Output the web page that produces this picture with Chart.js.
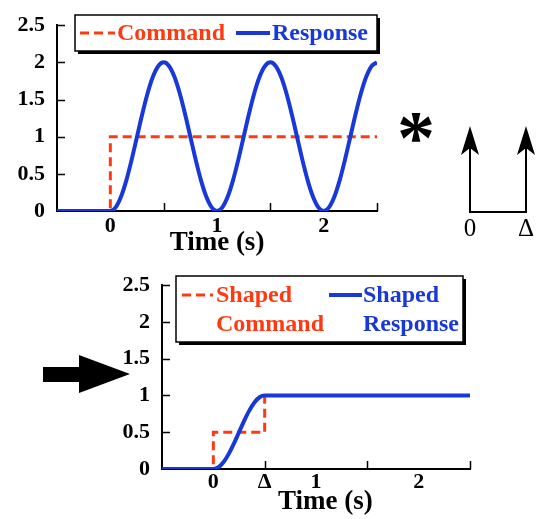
<!DOCTYPE html>
<html>
<head>
<meta charset="utf-8">
<script src="https://cdn.jsdelivr.net/npm/chart.js@4.4.1/dist/chart.umd.min.js"></script>
<style>
  html, body { margin: 0; padding: 0; background: #fff; }
  #page { position: relative; width: 542px; height: 519px; overflow: hidden; }
  #topChart { position: absolute; left: 0; top: 0; }
  #bottomChart { position: absolute; left: 0; top: 260px; }
  #marks { position: absolute; left: 0; top: 0; pointer-events: none; }
</style>
</head>
<body>
<div id="page">
  <canvas id="topChart" width="390" height="260"></canvas>
  <canvas id="bottomChart" width="542" height="259"></canvas>
  <svg id="marks" width="542" height="519" font-family="'Liberation Serif', 'Times New Roman', serif">
    <!-- convolution sign -->
    <text x="397" y="163" font-size="76" font-weight="bold">*</text>
    <!-- impulse sequence -->
    <polyline points="470,145 470,212 526,212 526,145" fill="none" stroke="#000" stroke-width="2"/>
    <polygon points="470,126 479,155 470,148 461,155" fill="#000"/>
    <polygon points="526,126 535,155 526,148 517,155" fill="#000"/>
    <text x="470" y="236" font-size="25" text-anchor="middle">0</text>
    <text x="526" y="236" font-size="25" text-anchor="middle">Δ</text>
    <!-- result arrow -->
    <polygon points="43,367 79,367 79,355 130,374 79,393 79,382 43,382" fill="#000"/>
  </svg>
</div>
<script>
// ---- data ----
const RED = "#ff3a12";
const BLUE = "#1838d8";

// unshaped step command and its oscillating response
const commandTime = [-0.5, 0, 0, 2.5];
const commandValue = [0, 0, 1, 1];
const responseTime = [-0.5, 0, 0.05, 0.1, 0.15, 0.2, 0.25, 0.3, 0.35, 0.4, 0.45, 0.5,
  0.55, 0.6, 0.65, 0.7, 0.75, 0.8, 0.85, 0.9, 0.95, 1,
  1.05, 1.1, 1.15, 1.2, 1.25, 1.3, 1.35, 1.4, 1.45, 1.5,
  1.55, 1.6, 1.65, 1.7, 1.75, 1.8, 1.85, 1.9, 1.95, 2,
  2.05, 2.1, 2.15, 2.2, 2.25, 2.3, 2.35, 2.4, 2.45, 2.5];
const responseValue = [0, 0, 0.049, 0.191, 0.412, 0.691, 1, 1.309, 1.588, 1.809, 1.951, 2,
  1.951, 1.809, 1.588, 1.309, 1, 0.691, 0.412, 0.191, 0.049, 0,
  0.049, 0.191, 0.412, 0.691, 1, 1.309, 1.588, 1.809, 1.951, 2,
  1.951, 1.809, 1.588, 1.309, 1, 0.691, 0.412, 0.191, 0.049, 0,
  0.049, 0.191, 0.412, 0.691, 1, 1.309, 1.588, 1.809, 1.951, 2];

// shaped (two-step) command and its response
const shapedCommandTime = [-0.5, 0, 0, 0.5, 0.5, 2.5];
const shapedCommandValue = [0, 0, 0.5, 0.5, 1, 1];
const shapedResponseTime = [-0.5, 0, 0.05, 0.1, 0.15, 0.2, 0.25, 0.3, 0.35, 0.4, 0.45, 0.5, 2.5];
const shapedResponseValue = [0, 0, 0.024, 0.095, 0.206, 0.345, 0.5, 0.655, 0.794, 0.905, 0.976, 1, 1];

// axis labels
const yTickValues = [0, 0.5, 1, 1.5, 2, 2.5];
const yTickLabels = ["0", "0.5", "1", "1.5", "2", "2.5"];
const topTickValues = [0, 1, 2];
const topTickLabels = ["0", "1", "2"];
const bottomTickValues = [0, 0.5, 1, 2];
const bottomTickLabels = ["0", "Δ", "1", "2"];
const tickMarkValues = [0.5, 1.5, 2.5];
const topLegendLabels = [["Command"], ["Response"]];
const bottomLegendLabels = [["Shaped", "Command"], ["Shaped", "Response"]];

const FONT = "'Liberation Serif', 'Times New Roman', serif";
Chart.defaults.font.family = FONT;
Chart.defaults.font.weight = "bold";
Chart.defaults.color = "#000";

function points(xs, ys) {
  return xs.map((x, i) => ({ x: x, y: ys[i] }));
}

// inward tick marks and the boxed legend
const framePlugin = {
  id: "frame",
  afterDraw(chart, args, opts) {
    const ctx = chart.ctx;
    const area = chart.chartArea;
    const xs = chart.scales.x;
    const ys = chart.scales.y;
    ctx.save();
    ctx.strokeStyle = "#000";
    ctx.lineWidth = 1.5;
    ctx.beginPath();
    opts.xMarks.forEach(v => {
      const px = Math.round(xs.getPixelForValue(v)) + 0.5;
      ctx.moveTo(px, area.bottom);
      ctx.lineTo(px, area.bottom - 8);
    });
    yTickValues.slice(1).forEach(v => {
      const py = Math.round(ys.getPixelForValue(v)) + 0.5;
      ctx.moveTo(area.left, py);
      ctx.lineTo(area.left + 8, py);
    });
    ctx.stroke();

    const b = opts.legend.box;
    ctx.fillStyle = "#000";
    ctx.fillRect(b.x + 3, b.y + 3, b.w, b.h);
    ctx.fillStyle = "#fff";
    ctx.fillRect(b.x, b.y, b.w, b.h);
    ctx.lineWidth = 1.5;
    ctx.strokeRect(b.x, b.y, b.w, b.h);

    ctx.font = "bold 24px " + FONT;
    ctx.textBaseline = "middle";
    opts.legend.items.forEach((it, i) => {
      const ds = chart.data.datasets[i];
      ctx.strokeStyle = ds.borderColor;
      ctx.lineWidth = ds.borderWidth;
      ctx.setLineDash(ds.borderDash || []);
      ctx.beginPath();
      ctx.moveTo(it.x0, it.y);
      ctx.lineTo(it.x1, it.y);
      ctx.stroke();
      ctx.setLineDash([]);
      ctx.fillStyle = ds.borderColor;
      opts.legend.labels[i].forEach((txt, j) => {
        ctx.fillText(txt, it.tx, it.y + 1 + j * 29);
      });
    });
    ctx.restore();
  }
};

function makeChart(id, cfg) {
  return new Chart(document.getElementById(id), {
    type: "line",
    data: {
      datasets: [
        {
          label: cfg.labels[0].join(" "),
          data: points(cfg.cmd[0], cfg.cmd[1]),
          borderColor: RED,
          borderWidth: 3,
          borderDash: [9, 5],
          tension: 0,
          pointRadius: 0,
          order: 1
        },
        {
          label: cfg.labels[1].join(" "),
          data: points(cfg.resp[0], cfg.resp[1]),
          borderColor: BLUE,
          borderWidth: 4,
          cubicInterpolationMode: "monotone",
          pointRadius: 0,
          order: 0
        }
      ]
    },
    options: {
      responsive: false,
      animation: false,
      events: [],
      layout: { autoPadding: false, padding: cfg.padding },
      plugins: {
        legend: { display: false },
        tooltip: { enabled: false },
        frame: {
          xMarks: tickMarkValues,
          legend: { box: cfg.box, items: cfg.items, labels: cfg.labels }
        }
      },
      scales: {
        x: {
          type: "linear",
          min: -0.5,
          max: 2.5,
          grid: { display: false, drawTicks: false },
          border: { display: true, color: "#000", width: 2 },
          afterFit(scale) { scale.height = cfg.xHeight; },
          afterBuildTicks(scale) {
            scale.ticks = cfg.tickValues.map(v => ({ value: v }));
          },
          ticks: {
            autoSkip: false,
            maxRotation: 0,
            padding: cfg.tickPad,
            font: { size: 22 },
            callback: v => cfg.tickLabels[cfg.tickValues.indexOf(v)]
          },
          title: {
            display: true,
            text: cfg.title,
            font: { size: 27 },
            padding: { top: 0, bottom: 1 }
          }
        },
        y: {
          min: 0,
          max: 2.5,
          grid: { display: false, drawTicks: false },
          border: { display: true, color: "#000", width: 2 },
          afterFit(scale) { scale.width = cfg.yWidth; },
          afterBuildTicks(scale) {
            scale.ticks = yTickValues.map(v => ({ value: v }));
          },
          ticks: {
            padding: 12,
            font: { size: 22 },
            callback: v => yTickLabels[yTickValues.indexOf(v)]
          }
        }
      }
    },
    plugins: [framePlugin]
  });
}

makeChart("topChart", {
  cmd: [commandTime, commandValue],
  resp: [responseTime, responseValue],
  labels: topLegendLabels,
  tickValues: topTickValues,
  tickLabels: topTickLabels,
  title: "Time (s)",
  tickPad: 2,
  padding: { top: 17, right: 13, left: 0, bottom: 0 },
  xHeight: 49,
  yWidth: 57,
  box: { x: 75, y: 15, w: 302, h: 36 },
  items: [
    { x0: 80, x1: 115, tx: 117, y: 33 },
    { x0: 236, x1: 270, tx: 272, y: 33 }
  ]
});

makeChart("bottomChart", {
  cmd: [shapedCommandTime, shapedCommandValue],
  resp: [shapedResponseTime, shapedResponseValue],
  labels: bottomLegendLabels,
  tickValues: bottomTickValues,
  tickLabels: bottomTickLabels,
  // title sits a little right of the axis centre in the figure
  title: "\u2002\u2009Time (s)",
  tickPad: 0,
  padding: { top: 16, right: 72, left: 0, bottom: 0 },
  xHeight: 50,
  yWidth: 162,
  box: { x: 176, y: 16, w: 287, h: 66 },
  items: [
    { x0: 182, x1: 213, tx: 216, y: 35 },
    { x0: 329, x1: 362, tx: 363, y: 35 }
  ]
});
</script>
</body>
</html>
